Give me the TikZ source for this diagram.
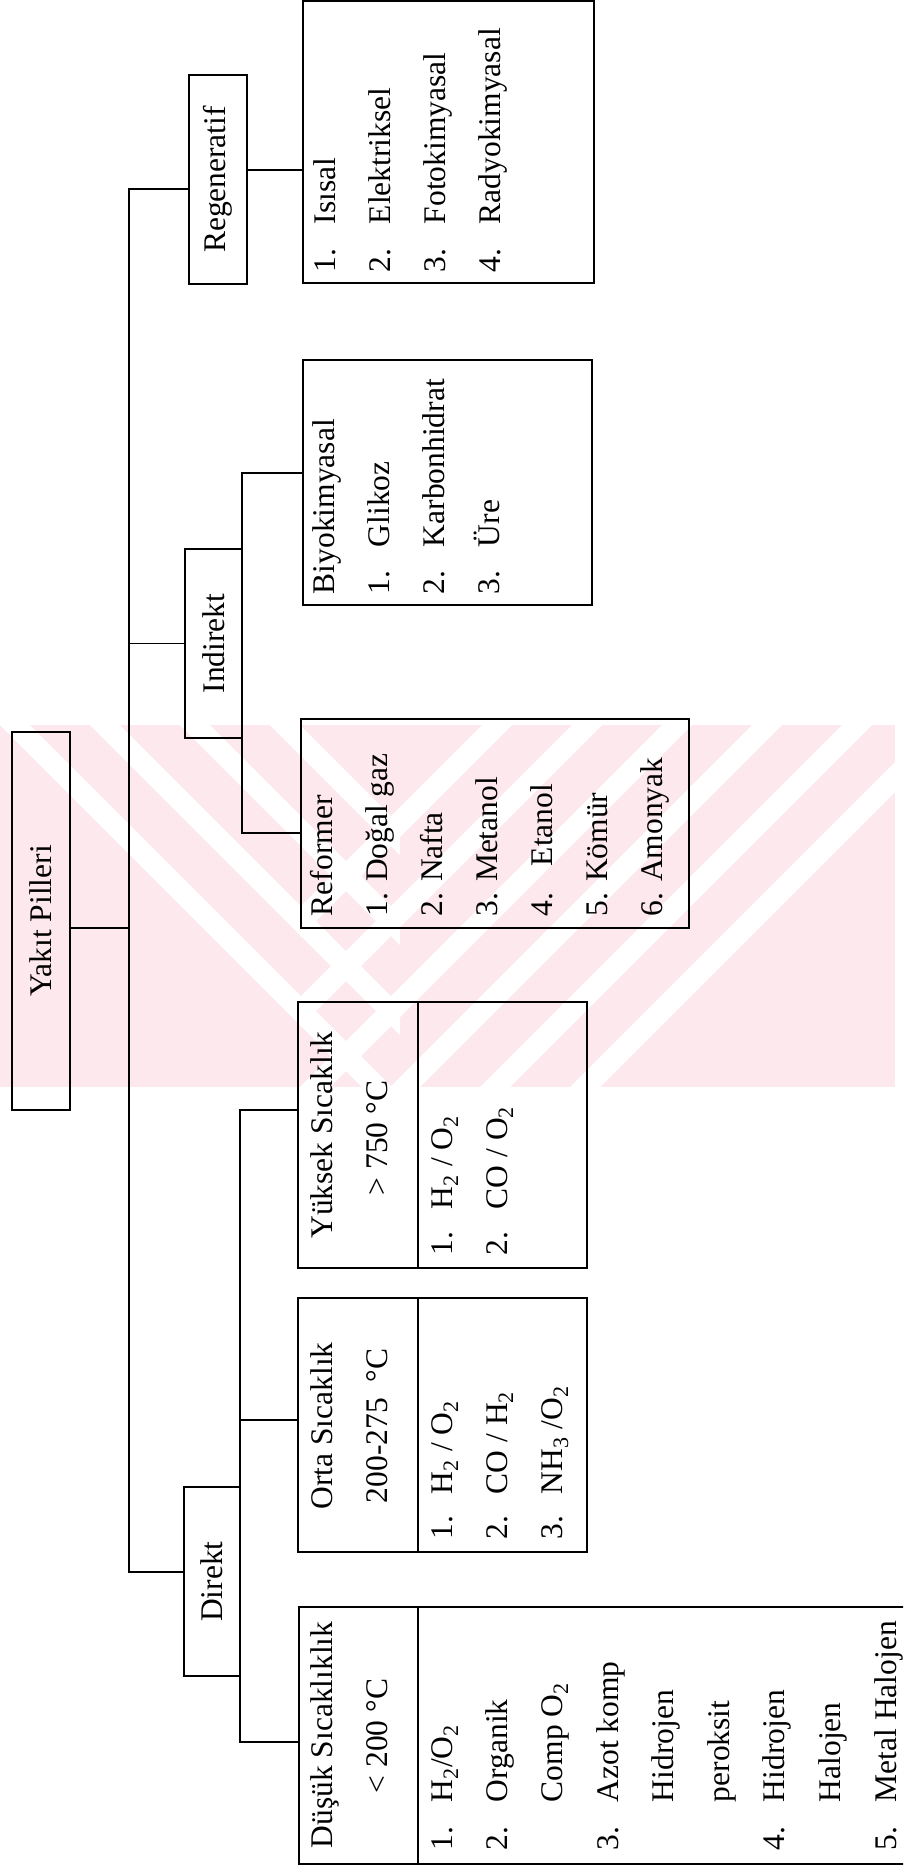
\documentclass[tikz,border=0pt]{standalone}
\usepackage{fontspec}
\setmainfont{Liberation Serif}
\newcommand{\fsz}{\fontsize{31.5}{36}\selectfont}
\newcommand{\sub}[1]{\textsubscript{#1}}
\definecolor{wmpink}{RGB}{253,232,237}
\begin{document}
\begin{tikzpicture}[x=1pt,y=-1pt,line width=1.8pt,
  box/.style={draw, inner sep=0pt, font=\fsz},
  txt/.style={rotate=90, anchor=base west, inner sep=0pt, font=\fsz},
  ctxt/.style={rotate=90, anchor=base, inner sep=0pt, font=\fsz},
  conn/.style={line width=1.6pt}]
\useasboundingbox (0,0) rectangle (903,1870);
\fill[white] (0,0) rectangle (903,1870);
\clip (0,0) rectangle (903,1870);

% ---- faint watermark ----
\begin{scope}
\clip (0,725) rectangle (895,1087);
\fill[wmpink] (0,725) rectangle (895,1087);
\foreach \c in {0,90,180,270} {
  \fill[white] (0,725+\c-300) -- (0,725+\c-270) -- (400,1125+\c-270) -- (400,1125+\c-300) -- cycle;
}
\foreach \c in {0,90,180,270,360,450} {
  \fill[white] (300,1087-\c+300) -- (300,1087-\c+270) -- (900,487-\c+270) -- (900,487-\c+300) -- cycle;
}
\end{scope}

% ---- boxes ----
\node[box, minimum width=58pt, minimum height=378pt] (root) at (41,921) {\rotatebox{90}{Yakıt Pilleri}};
\node[box, minimum width=58pt, minimum height=209pt] (reg) at (218,179.5) {\rotatebox{90}{Regeneratif}};
\node[box, minimum width=57pt, minimum height=189pt] (indir) at (213.5,643.5) {\rotatebox{90}{Indirekt}};
\node[box, minimum width=56pt, minimum height=189pt] (direkt) at (212,1581.5) {\rotatebox{90}{Direkt}};

\node[box, minimum width=291pt, minimum height=282pt] (reglist) at (448.5,142) {};
\node[box, minimum width=289pt, minimum height=245pt] (biyo) at (447.5,482.5) {};
\node[box, minimum width=388pt, minimum height=209pt] (reform) at (495,823.5) {};
\node[box, minimum width=289pt, minimum height=266pt] (yuksek) at (442.5,1135) {};
\node[box, minimum width=289pt, minimum height=254pt] (orta) at (442.5,1425) {};
\node[box, minimum width=616pt, minimum height=257pt] (dusuk) at (607,1735.5) {};

% dividers
\draw (yuksek.north -| 418,0) -- (yuksek.south -| 418,0);
\draw (orta.north -| 418,0) -- (orta.south -| 418,0);
\draw (dusuk.north -| 418,0) -- (dusuk.south -| 418,0);

% ---- connectors ----
\coordinate (tTop) at (129,189);
\coordinate (tRoot) at (129,928);
\coordinate (tBot) at (129,1572);
\draw[conn] (reg.west |- tTop) -- (tTop) -- (tBot) -- (direkt.west |- tBot);
\draw[conn] (root.east |- tRoot) -- (tRoot);
\draw[conn] (129,643.5) -- (indir.west);
\coordinate (rA) at (247,170);
\draw[conn] (rA) -- (reglist.west |- rA);
\coordinate (iA) at (242,473);
\coordinate (iB) at (242,833);
\draw[conn] (biyo.west |- iA) -- (iA) -- (iB) -- (reform.west |- iB);
\coordinate (dA) at (240,1110);
\coordinate (dB) at (240,1420);
\coordinate (dC) at (240,1742);
\draw[conn] (yuksek.west |- dA) -- (dA) -- (dC) -- (dusuk.west |- dC);
\draw[conn] (dB) -- (orta.west |- dB);

% ---- Regeneratif list ----
\node[txt] (rn1) at (335,273) {1.}; \node[txt] (ri1) at (335,225) {Isısal};
\node[txt] (rn2) at (390,273) {2.}; \node[txt] (ri2) at (390,225) {Elektriksel};
\node[txt] (rn3) at (445,273) {3.}; \node[txt] (ri3) at (445,225) {Fotokimyasal};
\node[txt] (rn4) at (500,273) {4.}; \node[txt] (ri4) at (500,225) {Radyokimyasal};

% ---- Biyokimyasal ----
\node[txt] (bh) at (334,595) {Biyokimyasal};
\node[txt] (bn1) at (389,595) {1.}; \node[txt] (bi1) at (389,548) {Glikoz};
\node[txt] (bn2) at (444,595) {2.}; \node[txt] (bi2) at (444,548) {Karbonhidrat};
\node[txt] (bn3) at (499,595) {3.}; \node[txt] (bi3) at (499,548) {Üre};

% ---- Reformer ----
\node[txt] (fh) at (332,917) {Reformer};
\node[txt] (f1) at (387,917) {1. Doğal gaz};
\node[txt] (f2) at (442,917) {2. Nafta};
\node[txt] (f3) at (497,917) {3. Metanol};
\node[txt] (f4n) at (552,917) {4.}; \node[txt] (f4) at (552,867) {Etanol};
\node[txt] (f5) at (607,917) {5. Kömür};
\node[txt] (f6) at (662,917) {6. Amonyak};

% ---- Yuksek ----
\node[ctxt] (yh1) at (332,1135) {Yüksek Sıcaklık};
\node[ctxt] (yh2) at (387,1138) {> 750 °C};
\node[txt] (yn1) at (452,1256) {1.}; \node[txt] (yi1) at (452,1210) {H\sub{2} / O\sub{2}};
\node[txt] (yn2) at (507,1256) {2.}; \node[txt] (yi2) at (507,1210) {CO / O\sub{2}};

% ---- Orta ----
\node[ctxt] (oh1) at (332,1426) {Orta Sıcaklık};
\node[ctxt] (oh2) at (387,1426) {200-275\ \ °C};
\node[txt] (on1) at (452,1540) {1.}; \node[txt] (oi1) at (452,1495) {H\sub{2} / O\sub{2}};
\node[txt] (on2) at (507,1540) {2.}; \node[txt] (oi2) at (507,1495) {CO / H\sub{2}};
\node[txt] (on3) at (562,1540) {3.}; \node[txt] (oi3) at (562,1495) {NH\sub{3} /O\sub{2}};

% ---- Dusuk ----
\node[ctxt] (dh1) at (332,1735) {Düşük Sıcaklıklık};
\node[ctxt] (dh2) at (387,1736) {< 200 °C};
\node[txt] (dn1) at (452,1851) {1.}; \node[txt] (di1) at (452,1803) {H\sub{2}/O\sub{2}};
\node[txt] (dn2) at (507,1851) {2.}; \node[txt] (di2) at (507,1803) {Organik};
\node[txt] (di2b) at (562,1803) {Comp O\sub{2}};
\node[txt] (dn3) at (618,1851) {3.}; \node[txt] (di3) at (618,1803) {Azot komp};
\node[txt] (di3b) at (673,1803) {Hidrojen};
\node[txt] (di3c) at (729,1803) {peroksit};
\node[txt] (dn4) at (784,1851) {4.}; \node[txt] (di4) at (784,1803) {Hidrojen};
\node[txt] (di4b) at (840,1803) {Halojen};
\node[txt] (dn5) at (896,1851) {5.}; \node[txt] (di5) at (896,1803) {Metal Halojen};
\end{tikzpicture}
\end{document}
